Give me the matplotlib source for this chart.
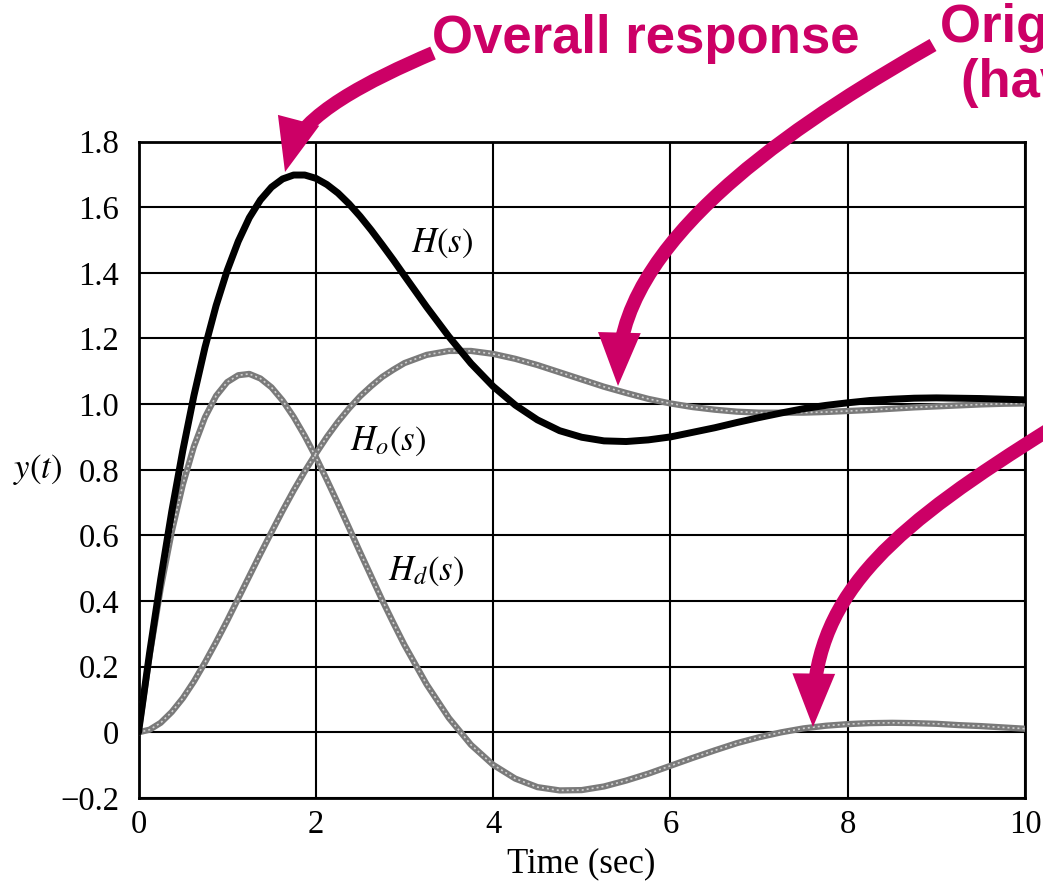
import matplotlib.pyplot as plt
from matplotlib.patches import FancyArrowPatch
from matplotlib.path import Path
from matplotlib.transforms import Affine2D

plt.rcParams['font.family'] = 'Liberation Serif'
plt.rcParams['mathtext.fontset'] = 'stix'

W, HPX = 1043, 883
MAGENTA = '#CC0066'

# step responses (time in sec)
t = [0, 0.125, 0.25, 0.375, 0.5, 0.625, 0.75, 0.875, 1.0, 1.125, 1.25, 1.375,
     1.5, 1.625, 1.75, 1.875, 2.0, 2.125, 2.25, 2.375, 2.5, 2.625, 2.75, 2.875,
     3.0, 3.25, 3.5, 3.75, 4.0, 4.25, 4.5, 4.75, 5.0, 5.25, 5.5, 5.75, 6.0, 6.25,
     6.5, 6.75, 7.0, 7.25, 7.5, 7.75, 8.0, 8.25, 8.5, 8.75, 9.0, 9.25, 9.5, 9.75,
     10.0]
y_h = [0, 0.242, 0.466, 0.673, 0.859, 1.026, 1.173, 1.300, 1.407, 1.496, 1.568,
       1.622, 1.661, 1.686, 1.698, 1.698, 1.688, 1.669, 1.643, 1.610, 1.572, 1.530,
       1.485, 1.439, 1.391, 1.296, 1.206, 1.124, 1.054, 0.997, 0.952, 0.919, 0.899,
       0.888, 0.886, 0.891, 0.900, 0.914, 0.928, 0.944, 0.959, 0.973, 0.986, 0.996,
       1.004, 1.011, 1.015, 1.018, 1.019, 1.018, 1.017, 1.015, 1.013]
y_ho = [0, 0.008, 0.029, 0.062, 0.104, 0.155, 0.213, 0.275, 0.340, 0.408, 0.476,
        0.544, 0.610, 0.675, 0.737, 0.795, 0.849, 0.900, 0.946, 0.987, 1.024, 1.055,
        1.083, 1.105, 1.125, 1.150, 1.162, 1.162, 1.153, 1.138, 1.119, 1.097, 1.075,
        1.053, 1.034, 1.016, 1.002, 0.991, 0.983, 0.977, 0.974, 0.974, 0.974, 0.976,
        0.979, 0.982, 0.986, 0.990, 0.993, 0.996, 0.999, 1.001, 1.002]
y_hd = [0, 0.234, 0.438, 0.611, 0.755, 0.871, 0.960, 1.025, 1.067, 1.088, 1.092,
        1.078, 1.051, 1.011, 0.961, 0.903, 0.839, 0.769, 0.697, 0.623, 0.548, 0.475,
        0.402, 0.333, 0.266, 0.146, 0.044, -0.038, -0.099, -0.141, -0.167, -0.177,
        -0.176, -0.165, -0.147, -0.126, -0.102, -0.078, -0.055, -0.033, -0.015, 0.000,
        0.012, 0.020, 0.025, 0.028, 0.029, 0.028, 0.026, 0.022, 0.019, 0.015, 0.011]

x_ticks = [0, 2, 4, 6, 8, 10]
y_ticks = [-0.2, 0, 0.2, 0.4, 0.6, 0.8, 1.0, 1.2, 1.4, 1.6, 1.8]
y_ticklabels = ['\u22120.2', '0', '0.2', '0.4', '0.6', '0.8', '1.0', '1.2',
                '1.4', '1.6', '1.8']

fig = plt.figure(figsize=(W / 100, HPX / 100), dpi=100)
ax = fig.add_axes([0.1328, 0.0963, 0.8500, 0.7434])

for y in (y_ho, y_hd):
    ax.plot(t, y, color='#7a7a7a', lw=4.5, solid_capstyle='round',
            solid_joinstyle='round', zorder=3)
    ax.plot(t, y, color='#d0d0d0', lw=1.2, dashes=(1.2, 1.8), zorder=4)
ax.plot(t, y_h, color='black', lw=5, solid_capstyle='round',
        solid_joinstyle='round', zorder=5)

ax.set_xlim(0, 10)
ax.set_ylim(-0.2, 1.8)
ax.set_xticks(x_ticks)
ax.set_yticks(y_ticks)
ax.set_yticklabels(y_ticklabels)
ax.grid(True, color='black', lw=1.5)
ax.set_axisbelow(True)
ax.tick_params(length=0, labelsize=23.5)
ax.tick_params(axis='x', pad=8)
ax.tick_params(axis='y', pad=14)
for sp in ax.spines.values():
    sp.set_linewidth(2)

ax.text(3.42, 1.49, '$H(s)$', ha='center', va='center', fontsize=25)
ax.text(2.82, 0.887, '$H_o(s)$', ha='center', va='center', fontsize=25)
ax.text(3.24, 0.489, '$H_d(s)$', ha='center', va='center', fontsize=25)

fig.text(13 / W, 1 - 478 / HPX, '$y(t)$', ha='left', va='baseline', fontsize=25)
fig.text(581 / W, 1 - 872 / HPX, 'Time (sec)', ha='center', va='baseline', fontsize=25)

# magenta call-outs, pixel coords measured from the top-left corner
px = Affine2D().scale(1 / W, -1 / HPX).translate(0, 1) + fig.transFigure

def arrow(pts):
    path = Path(pts, [Path.MOVETO, Path.CURVE4, Path.CURVE4, Path.CURVE4])
    a = FancyArrowPatch(path=path, arrowstyle='-|>,head_length=20,head_width=8',
                        mutation_scale=1, lw=10, color=MAGENTA, transform=px,
                        joinstyle='miter', capstyle='butt', zorder=10)
    fig.add_artist(a)

arrow([(433, 53), (370, 80), (300, 115), (285, 172)])
arrow([(933, 45), (820, 110), (622, 230), (618, 386)])
arrow([(1050, 429), (900, 523), (815, 590), (813, 727)])

font_call = dict(color=MAGENTA, fontsize=38, fontweight='bold',
                 family='Liberation Sans', va='baseline', ha='left')
fig.text(432 / W, 1 - 53 / HPX, 'Overall response', **font_call)
# baseline given for the second line of the block
fig.text(940 / W, 1 - 97 / HPX, 'Original response\n(having no zero)',
         multialignment='center', linespacing=1.12, **font_call)

fig.savefig('out.png', dpi=100)
